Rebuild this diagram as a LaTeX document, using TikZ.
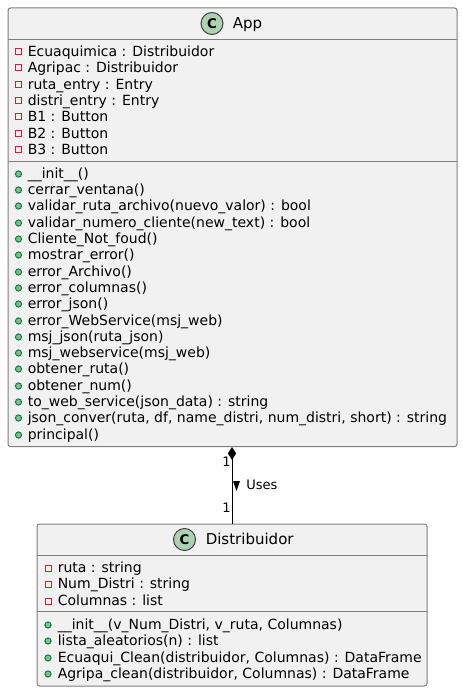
\documentclass[tikz,border=0pt]{standalone}
\usepackage{fontspec}
\setmainfont{DejaVu Sans}
\usetikzlibrary{arrows.meta}
\definecolor{boxfill}{HTML}{F1F1F1}
\definecolor{boxline}{HTML}{7F7F7F}
\definecolor{circfill}{HTML}{ADD1B2}
\definecolor{privred}{HTML}{C82930}
\definecolor{pubfill}{HTML}{84BE84}
\definecolor{publine}{HTML}{038048}
\tikzset{
  classbox/.style={draw=boxline,fill=boxfill,line width=0.75pt,rounded corners=1.9pt,inner sep=0pt,anchor=north west},
  sepline/.style={draw=boxline,line width=0.75pt},
  member/.style={anchor=base west,inner sep=0pt,font=\fontsize{10.5pt}{12pt}\selectfont,text=black},
  title/.style={anchor=base west,inner sep=0pt,font=\fontsize{11.25pt}{13pt}\selectfont,text=black},
  priv/.style={draw=privred,line width=0.75pt,fill=none,minimum size=4.5pt,inner sep=0pt,rectangle},
  pub/.style={draw=publine,line width=0.75pt,fill=pubfill,minimum size=4.6pt,inner sep=0pt,circle},
  badge/.style={circle,draw=black!75,line width=0.75pt,fill=circfill,minimum size=16.5pt,inner sep=0pt,font=\fontsize{10pt}{12pt}\selectfont\bfseries},
  small/.style={inner sep=0pt,font=\fontsize{9.75pt}{11pt}\selectfont,text=black},
}
\newcommand{\pvt}[3]{\node[priv] (m#1) at (18.5,#2) {}; \node[member] (t#1) at (27.5,#2+4.6) {#3};}
\newcommand{\pbl}[3]{\node[pub] (m#1) at (18.5,#2) {}; \node[member] (t#1) at (27.5,#2+4.6) {#3};}
\newcommand{\pvd}[3]{\node[priv] (d#1) at (48.5,#2) {}; \node[member] (e#1) at (57.5,#2+4.6) {#3};}
\newcommand{\pbd}[3]{\node[pub] (d#1) at (48,#2) {}; \node[member] (e#1) at (57.5,#2+4.6) {#3};}
\begin{document}
\begin{tikzpicture}[x=0.75pt,y=-0.75pt]
\useasboundingbox (0,0) rectangle (462,691);
\node[classbox,minimum width=336.75pt,minimum height=329pt] (app) at (7.5,7.5) {};
\node[classbox,minimum width=292.5pt,minimum height=121.5pt] (dist) at (36.5,523.5) {};
\draw[sepline] (7.5,39.5) -- (457,39.5);
\draw[sepline] (7.5,161.5) -- (457,161.5);
\draw[sepline] (36.5,555.5) -- (426.5,555.5);
\draw[sepline] (36.5,611.5) -- (426.5,611.5);
\node[badge] (cA) at (212,23.5) {C};
\node[title] (tA) at (232.5,28.5) {App};
\node[badge] (cD) at (184.5,539.5) {C};
\node[title] (tD) at (205.5,544.5) {Distribuidor};
\pvt{1}{52}{Ecuaquimica : Distribuidor}
\pvt{2}{68}{Agripac : Distribuidor}
\pvt{3}{85}{ruta\_entry : Entry}
\pvt{4}{101}{distri\_entry : Entry}
\pvt{5}{117}{B1 : Button}
\pvt{6}{134}{B2 : Button}
\pvt{7}{150}{B3 : Button}
\pbl{8}{174}{\_\_init\_\_()}
\pbl{9}{190}{cerrar\_ventana()}
\pbl{10}{206}{validar\_ruta\_archivo(nuevo\_valor) : bool}
\pbl{11}{223}{validar\_numero\_cliente(new\_text) : bool}
\pbl{12}{239}{Cliente\_Not\_foud()}
\pbl{13}{255}{mostrar\_error()}
\pbl{14}{272}{error\_Archivo()}
\pbl{15}{288}{error\_columnas()}
\pbl{16}{304}{error\_json()}
\pbl{17}{321}{error\_WebService(msj\_web)}
\pbl{18}{337}{msj\_json(ruta\_json)}
\pbl{19}{353}{msj\_webservice(msj\_web)}
\pbl{20}{369}{obtener\_ruta()}
\pbl{21}{386}{obtener\_num()}
\pbl{22}{402}{to\_web\_service(json\_data) : string}
\pbl{23}{418}{json\_conver(ruta, df, name\_distri, num\_distri, short) : string}
\pbl{24}{435}{principal()}
\pvd{1}{568}{ruta : string}
\pvd{2}{584}{Num\_Distri : string}
\pvd{3}{601}{Columnas : list}
\pbd{4}{625}{\_\_init\_\_(v\_Num\_Distri, v\_ruta, Columnas)}
\pbd{5}{641}{lista\_aleatorios(n) : list}
\pbd{6}{658}{Ecuaqui\_Clean(distribuidor, Columnas) : DataFrame}
\pbd{7}{674}{Agripa\_clean(distribuidor, Columnas) : DataFrame}
\draw[{Diamond[length=9.5pt,width=6.2pt,fill=black]}-,line width=0.6pt,black] (app.south -| dist.north) -- (dist.north);
\node[small,anchor=base east] (l1) at (231,466) {1};
\node[small,anchor=base east] (l2) at (231,512) {1};
\node[small,anchor=base west] (lu) at (246,489) {Uses};
\path[fill=black] (233,481) -- (240,481) -- (236.5,491) -- cycle;
\end{tikzpicture}
\end{document}
